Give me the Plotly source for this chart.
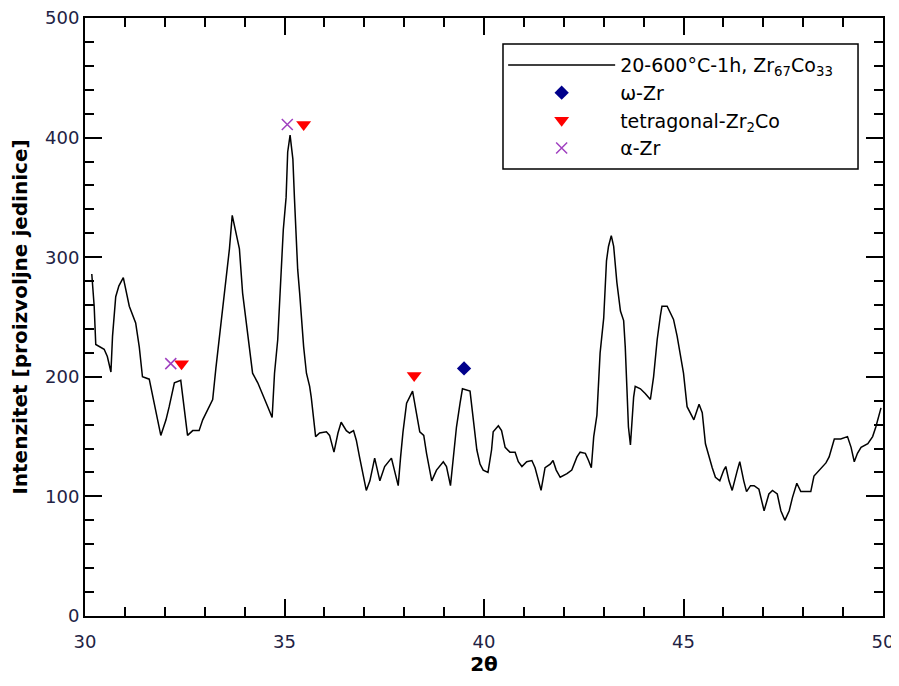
import plotly.graph_objects as go

# XRD pattern: 2theta and intensity
two_theta = [30.17, 30.23, 30.27, 30.48, 30.56, 30.65, 30.69, 30.77, 30.85, 30.96,
             31.11, 31.27, 31.36, 31.44, 31.61, 31.69, 31.82, 31.90, 32.03, 32.11,
             32.24, 32.40, 32.49, 32.57, 32.70, 32.86, 32.95, 33.07, 33.20, 33.28,
             33.37, 33.45, 33.54, 33.62, 33.69, 33.79, 33.87, 33.95, 34.04, 34.12,
             34.20, 34.33, 34.45, 34.58, 34.69, 34.75, 34.83, 34.92, 34.97, 35.04,
             35.08, 35.14, 35.21, 35.25, 35.29, 35.33, 35.38, 35.42, 35.48, 35.55,
             35.63, 35.67, 35.71, 35.78, 35.88, 36.05, 36.13, 36.24, 36.34, 36.42,
             36.55, 36.63, 36.73, 36.80, 36.88, 36.97, 37.05, 37.14, 37.26, 37.39,
             37.51, 37.68, 37.76, 37.85, 37.91, 37.97, 38.06, 38.21, 38.31, 38.39,
             38.49, 38.56, 38.69, 38.81, 38.98, 39.06, 39.16, 39.23, 39.31, 39.40,
             39.46, 39.65, 39.73, 39.82, 39.90, 39.98, 40.10, 40.19, 40.23, 40.32,
             40.36, 40.44, 40.53, 40.65, 40.78, 40.86, 40.95, 41.07, 41.20, 41.28,
             41.36, 41.43, 41.53, 41.66, 41.73, 41.81, 41.91, 42.08, 42.20, 42.33,
             42.41, 42.54, 42.62, 42.69, 42.75, 42.83, 42.91, 43.00, 43.07, 43.12,
             43.19, 43.25, 43.33, 43.42, 43.50, 43.54, 43.58, 43.62, 43.67, 43.71,
             43.75, 43.79, 43.92, 44.04, 44.17, 44.25, 44.34, 44.42, 44.46, 44.59,
             44.67, 44.75, 44.84, 44.92, 45.00, 45.09, 45.17, 45.26, 45.39, 45.47,
             45.55, 45.64, 45.72, 45.80, 45.91, 46.01, 46.06, 46.14, 46.22, 46.35,
             46.41, 46.51, 46.58, 46.68, 46.77, 46.89, 47.02, 47.14, 47.23, 47.35,
             47.44, 47.54, 47.65, 47.73, 47.84, 47.94, 48.07, 48.19, 48.27, 48.40,
             48.57, 48.65, 48.78, 48.94, 49.11, 49.20, 49.28, 49.36, 49.45, 49.62,
             49.74, 49.82, 49.91, 49.95]
intensity = [286, 259, 227, 223, 217, 204, 234, 267, 276, 283,
             259, 245, 225, 200, 198, 186, 164, 151, 164, 175,
             195, 197, 175, 151, 155, 155, 164, 172, 181, 207,
             234, 256, 287, 307, 335, 318, 307, 270, 245, 220,
             203, 195, 186, 175, 166, 203, 231, 290, 323, 350,
             388, 402, 382, 349, 318, 290, 270, 248, 225, 203,
             192, 183, 169, 150, 153, 154, 151, 137, 153, 162,
             155, 153, 155, 147, 133, 119, 105, 113, 132, 113,
             125, 132, 122, 109, 133, 154, 178, 188, 169, 154,
             151, 136, 113, 122, 129, 125, 109, 133, 158, 178,
             190, 188, 164, 139, 127, 122, 120, 139, 154, 157,
             159, 155, 141, 137, 137, 129, 125, 129, 130, 124,
             113, 105, 124, 127, 130, 122, 116, 119, 122, 133,
             137, 136, 130, 124, 150, 168, 220, 249, 297, 309,
             318, 309, 279, 255, 247, 225, 192, 158, 143, 169,
             183, 192, 190, 186, 181, 200, 231, 251, 259, 259,
             253, 248, 234, 220, 203, 175, 170, 164, 177, 170,
             144, 133, 124, 116, 113, 122, 125, 113, 105, 122,
             129, 113, 104, 109, 109, 106, 88, 102, 105, 102,
             88, 80, 88, 99, 111, 104, 104, 104, 117, 122,
             128, 133, 148, 148, 150, 141, 129, 136, 141, 144,
             150, 158, 170, 174]

# Phase markers
omega_x = [39.5]
omega_y = [207]
tetra_x = [32.42, 35.48, 38.25]
tetra_y = [211, 411, 201]
alpha_x = [32.15, 35.07]
alpha_y = [211, 411]

FONT = "DejaVu Sans"

fig = go.Figure()
fig.add_trace(go.Scatter(
    x=two_theta, y=intensity, mode="lines",
    line=dict(color="black", width=1.5),
    name="20-600°C-1h, Zr<sub>67</sub>Co<sub>33</sub>"))
fig.add_trace(go.Scatter(
    x=omega_x, y=omega_y, mode="markers",
    marker=dict(symbol="diamond", color="#00008B", size=11),
    name="ω-Zr"))
fig.add_trace(go.Scatter(
    x=tetra_x, y=tetra_y, mode="markers",
    marker=dict(symbol="triangle-down", color="#FF0000", size=13),
    name="tetragonal-Zr<sub>2</sub>Co"))
fig.add_trace(go.Scatter(
    x=alpha_x, y=alpha_y, mode="markers",
    marker=dict(symbol="x-thin-open", color="#A040C0", size=11,
                line=dict(color="#A040C0", width=1.5)),
    name="α-Zr"))

axis_common = dict(
    showline=True, linecolor="black", linewidth=2, mirror="allticks",
    ticks="inside", ticklen=17, tickwidth=1.5, tickcolor="black",
    showgrid=False, zeroline=False, automargin=False,
    ticklabeloverflow="allow",
    tickfont=dict(family=FONT, size=18, color="#222244"),
)

fig.update_layout(
    width=891, height=678,
    margin=dict(l=77, r=16, t=10, b=70),
    paper_bgcolor="white", plot_bgcolor="white",
    font=dict(family=FONT, size=18, color="black"),
    showlegend=True,
    legend=dict(
        x=0.524, y=0.953, xanchor="left", yanchor="top",
        bgcolor="rgba(0,0,0,0)", borderwidth=0,
        font=dict(family=FONT, size=19, color="black"),
        itemwidth=107,
    ),
    shapes=[dict(type="rect", xref="paper", yref="paper",
                 x0=0.5238, x1=0.9687, y0=0.7475, y1=0.9565,
                 line=dict(color="black", width=1.5), layer="below",
                 fillcolor="white")],
    xaxis=dict(
        range=[30, 50], tickmode="linear", tick0=30, dtick=5,
        minor=dict(dtick=1, ticks="inside", ticklen=9, tickwidth=1.5, tickcolor="black"),
        title=dict(text="<b>2θ</b>", font=dict(family=FONT, size=20), standoff=2),
        ticklabelstandoff=8,
        **axis_common,
    ),
    yaxis=dict(
        range=[0, 500], tickmode="linear", tick0=0, dtick=100,
        minor=dict(dtick=20, ticks="inside", ticklen=9, tickwidth=1.5, tickcolor="black"),
        title=dict(text="<b>Intenzitet [proizvoljne jedinice]</b>", font=dict(family=FONT, size=20)),
        **axis_common,
    ),
)

fig.write_html("out.html")
